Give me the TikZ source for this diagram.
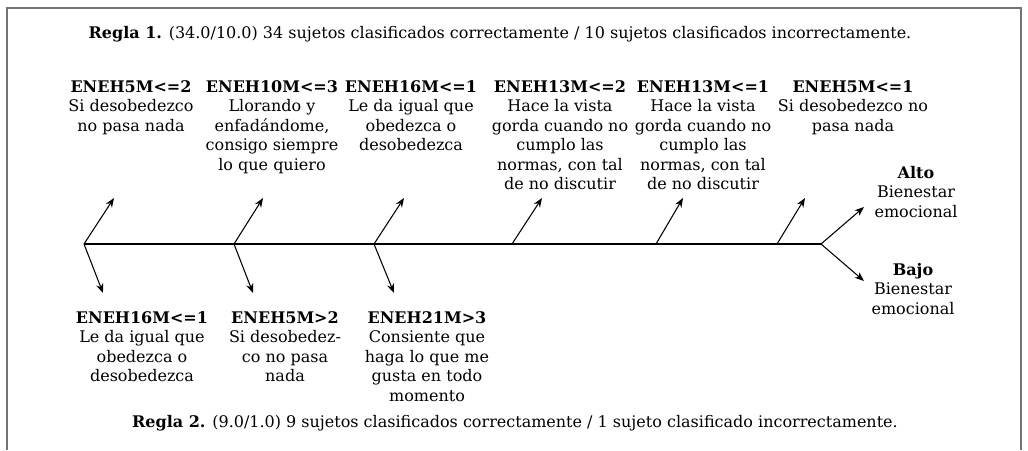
\documentclass[tikz,border=0pt]{standalone}
\usepackage{fontspec}
\setmainfont{DejaVu Serif}
\usetikzlibrary{arrows.meta}

\tikzset{
  frame/.style={draw=black!55, line width=1.3pt},
  spine/.style={draw=black, line width=0.8pt},
  branch/.style={draw=black, line width=0.8pt, -{Stealth[length=7pt,width=5.4pt]}},
  lbl/.style={align=center, font=\fontsize{12}{14.6}\selectfont},
  rule/.style={font=\fontsize{12}{14.6}\selectfont}
}

\begin{document}
\begin{tikzpicture}[x=0.75pt,y=-0.75pt]
            \tikzstyle{every node}+=[inner sep=0pt]
            \useasboundingbox (0,0) rectangle (1028,450);
            % frame, open at the bottom
            \draw [frame] (7,450) -- (7,8) -- (1021,8) -- (1021,450);
            % rules
            \node [rule] (regla1) at (500,34) {\textbf{Regla 1.} (34.0/10.0) 34 sujetos clasificados correctamente / 10 sujetos clasificados incorrectamente.};
            \node [rule] (regla2) at (515,423) {\textbf{Regla 2.} (9.0/1.0) 9 sujetos clasificados correctamente / 1 sujeto clasificado incorrectamente.};
            % spine
            \coordinate (b1) at (84,244);
            \coordinate (b2) at (234,244);
            \coordinate (b3) at (374,244);
            \coordinate (b4) at (512,244);
            \coordinate (b5) at (656,244);
            \coordinate (b6) at (777,244);
            \coordinate (head) at (821,244);
            \draw [spine] (b1) -- (head);
            % upper branches
            \coordinate (u1) at (114,198);
            \coordinate (u2) at (263,198);
            \coordinate (u3) at (404,198);
            \coordinate (u4) at (542,198);
            \coordinate (u5) at (683,198);
            \coordinate (u6) at (805,198);
            \coordinate (alto) at (864,207);
            \draw [branch] (b1) -- (u1);
            \draw [branch] (b2) -- (u2);
            \draw [branch] (b3) -- (u3);
            \draw [branch] (b4) -- (u4);
            \draw [branch] (b5) -- (u5);
            \draw [branch] (b6) -- (u6);
            \draw [branch] (head) -- (alto);
            % lower branches
            \coordinate (d1) at (103,293);
            \coordinate (d2) at (253,293);
            \coordinate (d3) at (394,293);
            \coordinate (bajo) at (864,281);
            \draw [branch] (b1) -- (d1);
            \draw [branch] (b2) -- (d2);
            \draw [branch] (b3) -- (d3);
            \draw [branch] (head) -- (bajo);
            % upper labels
            \node [lbl, anchor=north] (t1) at (131,80) {\textbf{ENEH5M<=2}\\Si desobedezco\\no pasa nada};
            \node [lbl, anchor=north] (t2) at (272,80) {\textbf{ENEH10M<=3}\\Llorando y\\enfadándome,\\consigo siempre\\lo que quiero};
            \node [lbl, anchor=north] (t3) at (411,80) {\textbf{ENEH16M<=1}\\Le da igual que\\obedezca o\\desobedezca};
            \node [lbl, anchor=north] (t4) at (560,80) {\textbf{ENEH13M<=2}\\Hace la vista\\gorda cuando no\\cumplo las\\normas, con tal\\de no discutir};
            \node [lbl, anchor=north] (t5) at (703,80) {\textbf{ENEH13M<=1}\\Hace la vista\\gorda cuando no\\cumplo las\\normas, con tal\\de no discutir};
            \node [lbl, anchor=north] (t6) at (853,80) {\textbf{ENEH5M<=1}\\Si desobedezco no\\pasa nada};
            \node [lbl, anchor=north] (altolbl) at (916,166) {\textbf{Alto}\\Bienestar\\emocional};
            % lower labels
            \node [lbl, anchor=north] (s1) at (142,311) {\textbf{ENEH16M<=1}\\Le da igual que\\obedezca o\\desobedezca};
            \node [lbl, anchor=north] (s2) at (285,311) {\textbf{ENEH5M>2}\\Si desobedez-\\co no pasa\\nada};
            \node [lbl, anchor=north] (s3) at (427,311) {\textbf{ENEH21M>3}\\Consiente que\\haga lo que me\\gusta en todo\\momento};
            \node [lbl, anchor=north] (bajolbl) at (913,263) {\textbf{Bajo}\\Bienestar\\emocional};
        \end{tikzpicture}
\end{document}
